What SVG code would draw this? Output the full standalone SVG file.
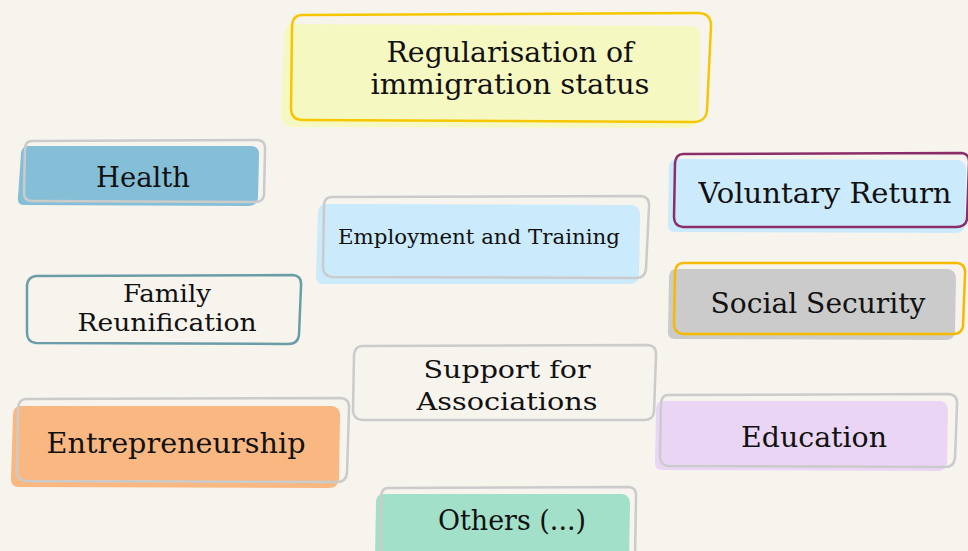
<svg xmlns="http://www.w3.org/2000/svg" width="968" height="551" viewBox="0 0 968 551">
<style>
.t{font-family:"DejaVu Serif","Liberation Serif",serif;fill:#111;text-anchor:middle}
.b{font-size:27px}
.m{font-size:25px}
.s{font-size:20px}
.o{fill:none;stroke-width:2.5;stroke-linejoin:round}
.g{stroke:#cbcbcb}
</style>
<rect width="968" height="551" fill="#f7f4ee"/>
<g id="connectors"/>
<g id="regularisation">
<path d="M292,24 L690,26 Q701,27 700,38 L699,116 Q698,128 686,128 L292,127 Q281,126 281,114 L284,36 Q285,24 292,24 Z" fill="#f6f8c1"/>
<path class="o" d="M302,15 L698,13 Q711,13 711,26 L707,110 Q706,122 693,122 L303,120 Q291,120 291,108 L292,28 Q292,15 302,15 Z" stroke="#f6c700" stroke-width="3"/>
<text class="t b" x="510" y="62" textLength="247" lengthAdjust="spacingAndGlyphs">Regularisation of</text>
<text class="t b" x="510" y="94" textLength="279" lengthAdjust="spacingAndGlyphs">immigration status</text>
</g>
<g id="health">
<path d="M28,146 L252,146 Q260,147 259,156 L258,198 Q257,206 248,206 L24,205 Q17,205 18,197 L21,153 Q22,146 28,146 Z" fill="#85bfd7"/>
<path class="o g" d="M32,141 L258,140 Q266,141 265,150 L264,195 Q263,202 255,202 L32,201 Q24,201 24,193 L25,149 Q25,141 32,141 Z"/>
<text class="t b" x="143" y="187" textLength="94" lengthAdjust="spacingAndGlyphs">Health</text>
</g>
<g id="family">
<path class="o" d="M36,276 L293,275 Q302,276 301,286 L299,335 Q298,344 288,344 L36,343 Q27,342 27,333 L27,285 Q28,277 36,276 Z" stroke="#6b9da8"/>
<text class="t m" x="167" y="302" textLength="88" lengthAdjust="spacingAndGlyphs">Family</text>
<text class="t m" x="167" y="331" textLength="179" lengthAdjust="spacingAndGlyphs">Reunification</text>
</g>
<g id="employment">
<path d="M326,204 L632,205 Q640,206 640,215 L639,276 Q638,284 629,284 L323,284 Q315,283 316,274 L318,212 Q319,204 326,204 Z" fill="#cbeafc"/>
<path class="o g" d="M332,197 L641,196 Q650,197 649,207 L646,269 Q645,278 636,278 L332,277 Q323,276 323,267 L324,206 Q324,197 332,197 Z"/>
<text class="t s" x="479" y="244" textLength="282" lengthAdjust="spacingAndGlyphs">Employment and Training</text>
</g>
<g id="voluntary">
<path d="M676,159 L958,160 Q966,161 966,170 L965,225 Q964,233 956,233 L674,232 Q667,231 668,223 L669,167 Q670,159 676,159 Z" fill="#cbeafc"/>
<path class="o" d="M683,154 L962,153 Q970,154 969,164 L967,219 Q966,227 956,227 L683,227 Q674,226 674,217 L675,163 Q676,154 683,154 Z" stroke="#8a2d69"/>
<text class="t b" x="825" y="203" textLength="253" lengthAdjust="spacingAndGlyphs">Voluntary Return</text>
</g>
<g id="social">
<path d="M676,269 L948,269 Q956,270 956,279 L955,332 Q954,340 946,340 L674,339 Q667,338 668,330 L669,276 Q670,269 676,269 Z" fill="#cbcbcb"/>
<path class="o" d="M683,263 L957,263 Q966,264 965,274 L963,326 Q962,334 953,334 L683,334 Q674,333 674,324 L675,272 Q676,263 683,263 Z" stroke="#f5b900"/>
<text class="t b" x="818" y="313" textLength="215" lengthAdjust="spacingAndGlyphs">Social Security</text>
</g>
<g id="support">
<path class="o g" d="M362,346 L648,345 Q657,346 656,356 L654,412 Q653,420 644,420 L362,420 Q353,419 353,410 L354,355 Q355,346 362,346 Z"/>
<text class="t m" x="507" y="378" textLength="167" lengthAdjust="spacingAndGlyphs">Support for</text>
<text class="t m" x="507" y="410" textLength="181" lengthAdjust="spacingAndGlyphs">Associations</text>
</g>
<g id="entrepreneurship">
<path d="M20,406 L332,406 Q341,407 340,417 L339,479 Q338,488 329,488 L18,487 Q10,486 11,477 L13,414 Q14,406 20,406 Z" fill="#f9b882"/>
<path class="o g" d="M26,399 L341,398 Q350,399 349,409 L347,473 Q346,482 337,482 L26,481 Q17,480 17,471 L18,408 Q19,399 26,399 Z"/>
<text class="t b" x="176" y="453" textLength="259" lengthAdjust="spacingAndGlyphs">Entrepreneurship</text>
</g>
<g id="education">
<path d="M663,401 L940,401 Q948,402 948,411 L947,463 Q946,471 938,471 L661,470 Q654,469 655,461 L656,408 Q657,401 663,401 Z" fill="#ead6f4"/>
<path class="o g" d="M668,395 L949,394 Q958,395 957,405 L955,458 Q954,467 945,467 L668,466 Q660,465 660,456 L661,403 Q662,395 668,395 Z"/>
<text class="t b" x="814" y="447" textLength="146" lengthAdjust="spacingAndGlyphs">Education</text>
</g>
<g id="others">
<path d="M383,494 L622,494 Q630,495 630,504 L629,560 L375,560 L376,501 Q377,494 383,494 Z" fill="#a2e0ca"/>
<path class="o g" d="M388,488 L629,487 Q637,488 636,497 L635,560 M381,560 L381,496 Q382,488 388,488"/>
<text class="t b" x="512" y="530" textLength="148" lengthAdjust="spacingAndGlyphs">Others (...)</text>
</g>
</svg>
